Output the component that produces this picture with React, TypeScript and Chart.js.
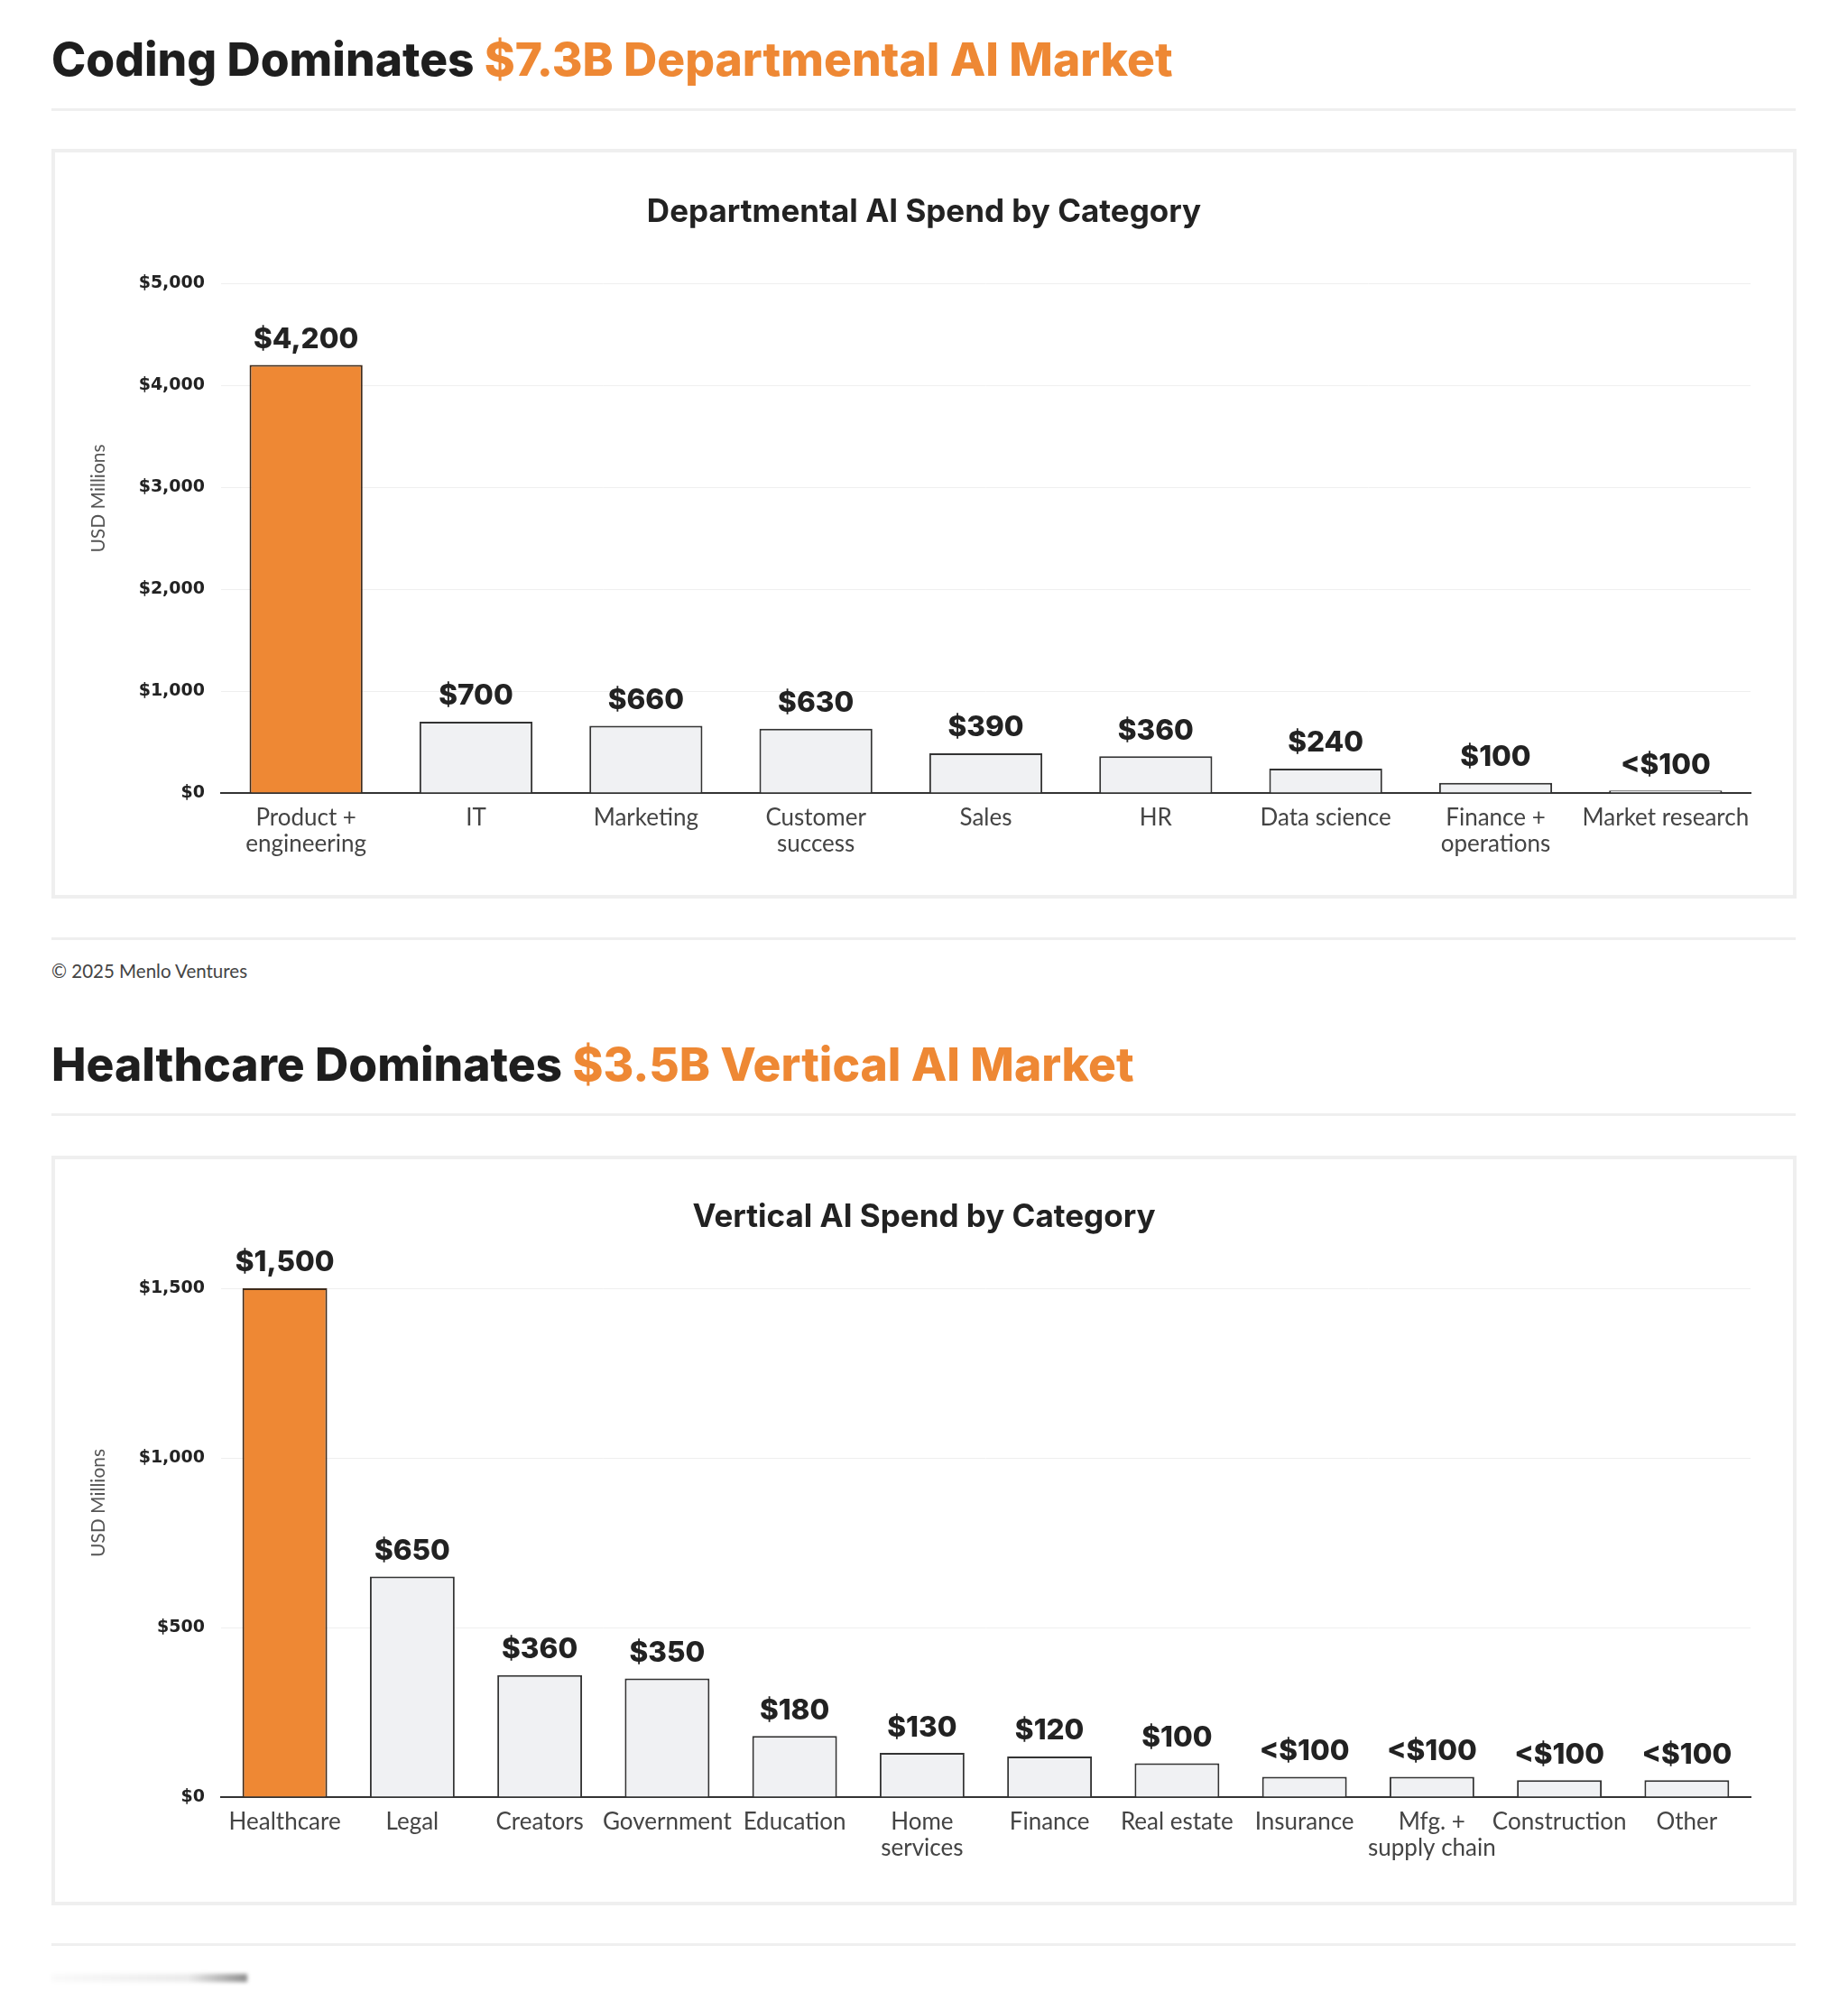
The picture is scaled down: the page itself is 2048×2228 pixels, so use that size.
import React, { useEffect, useRef } from "react";
import { Chart, registerables } from "chart.js";

Chart.register(...registerables);

// ---------- Data ----------
const deptTitle = "Departmental AI Spend by Category";
const deptCategories: (string | string[])[] = [
  ["Product +", "engineering"],
  "IT",
  "Marketing",
  ["Customer", "success"],
  "Sales",
  "HR",
  "Data science",
  ["Finance +", "operations"],
  "Market research",
];
const deptValues = [4200, 700, 660, 630, 390, 360, 240, 100, 25];
const deptValueLabels = ["$4,200", "$700", "$660", "$630", "$390", "$360", "$240", "$100", "<$100"];
const deptYMax = 5000;
const deptYStep = 1000;

const vertTitle = "Vertical AI Spend by Category";
const vertCategories: (string | string[])[] = [
  "Healthcare",
  "Legal",
  "Creators",
  "Government",
  "Education",
  ["Home", "services"],
  "Finance",
  "Real estate",
  "Insurance",
  ["Mfg. +", "supply chain"],
  "Construction",
  "Other",
];
const vertValues = [1500, 650, 360, 350, 180, 130, 120, 100, 60, 60, 50, 50];
const vertValueLabels = ["$1,500", "$650", "$360", "$350", "$180", "$130", "$120", "$100", "<$100", "<$100", "<$100", "<$100"];
const vertYMax = 1500;
const vertYStep = 500;

const highlightIndex = 0;
const yAxisTitle = "USD Millions";

// ---------- Styles ----------
const ORANGE = "#EE8834";
const ORANGE_BORDER = "#3e2a1a";
const GRAY = "#F0F1F3";
const GRAY_BORDER = "#333333";
const DARK = "#1e1e1e";

const valueLabelPlugin = {
  id: "valueLabels",
  afterDatasetsDraw(chart: any, _args: any, opts: any) {
    const ctx = chart.ctx;
    const meta = chart.getDatasetMeta(0);
    ctx.save();
    ctx.font = '800 31.5px "Inter"';
    ctx.fillStyle = "#222222";
    ctx.textAlign = "center";
    ctx.textBaseline = "middle";
    meta.data.forEach((bar: any, i: number) => {
      const txt = (opts.labels || [])[i];
      if (txt) ctx.fillText(txt, bar.x, bar.y - 28);
    });
    ctx.restore();
  },
};

const yTitlePlugin = {
  id: "yTitle",
  afterDraw(chart: any, _args: any, opts: any) {
    const { ctx, chartArea } = chart;
    ctx.save();
    ctx.translate(opts.x, (chartArea.top + chartArea.bottom) / 2 - opts.shift);
    ctx.rotate(-Math.PI / 2);
    ctx.font = '21px "Lato"';
    ctx.fillStyle = "#555555";
    ctx.textAlign = "center";
    ctx.textBaseline = "middle";
    ctx.fillText(opts.text, 0, 0);
    ctx.restore();
  },
};

type ChartSpec = {
  title: string;
  categories: (string | string[])[];
  values: number[];
  valueLabels: string[];
  yMax: number;
  yStep: number;
  titlePadTop: number;
  titlePadBottom: number;
  xHeight: number;
};

function BarChartBox({ spec, top }: { spec: ChartSpec; top: number }) {
  const ref = useRef<HTMLCanvasElement | null>(null);
  const W = 1926;
  const H = 823;

  useEffect(() => {
    if (!ref.current) return;
    const chart = new Chart(ref.current, {
      type: "bar",
      data: {
        labels: spec.categories as any,
        datasets: [
          {
            data: spec.values,
            backgroundColor: spec.values.map((_, i) => (i === highlightIndex ? ORANGE : GRAY)),
            borderColor: spec.values.map((_, i) => (i === highlightIndex ? ORANGE_BORDER : GRAY_BORDER)),
            borderWidth: 2,
            borderSkipped: "bottom",
            barPercentage: 0.665,
            categoryPercentage: 1,
            clip: false as any,
          },
        ],
      },
      options: {
        responsive: false,
        animation: false,
        layout: { padding: { left: 47, right: 47, top: 0, bottom: 0 } },
        plugins: {
          legend: { display: false },
          tooltip: { enabled: false },
          title: {
            display: true,
            text: spec.title,
            color: "#222222",
            font: { family: "Inter", weight: "bold", size: 35, lineHeight: 1.2 },
            padding: { top: spec.titlePadTop, bottom: spec.titlePadBottom },
          },
          valueLabels: { labels: spec.valueLabels },
          yTitle: { text: yAxisTitle, x: 48, shift: 44 },
        } as any,
        scales: {
          x: {
            grid: { display: false, drawTicks: false },
            border: { display: true, color: "#333333", width: 2 },
            ticks: {
              color: "#444444",
              font: { family: "Lato", size: 26, lineHeight: 1.08 },
              padding: 14,
              maxRotation: 0,
              minRotation: 0,
              autoSkip: false,
            },
            afterFit: (s: any) => {
              s.height = spec.xHeight;
            },
          },
          y: {
            min: 0,
            max: spec.yMax,
            ticks: {
              stepSize: spec.yStep,
              color: "#222222",
              font: { family: "DejaVu Sans", weight: "bold", size: 19 },
              padding: 18,
              callback: (v: any) => "$" + Number(v).toLocaleString("en-US"),
            },
            grid: { color: "#efefef", lineWidth: 1, drawTicks: false },
            border: { display: false },
            afterFit: (s: any) => {
              s.width = 137;
            },
          },
        },
      },
      plugins: [valueLabelPlugin, yTitlePlugin],
    });
    return () => chart.destroy();
  }, [spec]);

  return (
    <div
      style={{
        position: "absolute",
        left: 57,
        top,
        width: 1934,
        height: 831,
        boxSizing: "border-box",
        border: "4px solid #efefef",
        background: "#ffffff",
      }}
    >
      <canvas ref={ref} width={W} height={H} style={{ display: "block", width: W, height: H }} />
    </div>
  );
}

const deptSpec: ChartSpec = {
  title: deptTitle,
  categories: deptCategories,
  values: deptValues,
  valueLabels: deptValueLabels,
  yMax: deptYMax,
  yStep: deptYStep,
  titlePadTop: 45,
  titlePadBottom: 58,
  xHeight: 113,
};

const vertSpec: ChartSpec = {
  title: vertTitle,
  categories: vertCategories,
  values: vertValues,
  valueLabels: vertValueLabels,
  yMax: vertYMax,
  yStep: vertYStep,
  titlePadTop: 43,
  titlePadBottom: 58,
  xHeight: 116,
};

const headingStyle: React.CSSProperties = {
  position: "absolute",
  left: 57,
  fontFamily: "Inter, sans-serif",
  fontWeight: 800,
  fontSize: 51.5,
  lineHeight: "50px",
  color: DARK,
  whiteSpace: "nowrap",
  margin: 0,
};

const sepStyle = (top: number): React.CSSProperties => ({
  position: "absolute",
  left: 57,
  top,
  width: 1933,
  height: 3,
  background: "#efefef",
});

export default function App() {
  return (
    <div
      style={{
        position: "absolute",
        left: 0,
        top: 0,
        width: 2048,
        height: 2228,
        background: "#ffffff",
        overflow: "hidden",
      }}
    >
      <div style={{ ...headingStyle, top: 40 }}>
        Coding Dominates <span style={{ color: ORANGE }}>$7.3B Departmental AI Market</span>
      </div>
      <div style={sepStyle(120)} />
      <BarChartBox spec={deptSpec} top={165} />
      <div style={sepStyle(1039)} />
      <div
        style={{
          position: "absolute",
          left: 57,
          top: 1066,
          fontFamily: "Lato, sans-serif",
          fontSize: 20.5,
          lineHeight: "21px",
          color: "#444444",
          whiteSpace: "nowrap",
        }}
      >
        © 2025 Menlo Ventures
      </div>
      <div style={{ ...headingStyle, top: 1154 }}>
        Healthcare Dominates <span style={{ color: ORANGE }}>$3.5B Vertical AI Market</span>
      </div>
      <div style={sepStyle(1234)} />
      <BarChartBox spec={vertSpec} top={1281} />
      <div style={sepStyle(2154)} />
      <div
        style={{
          position: "absolute",
          left: 57,
          top: 2188,
          width: 217,
          height: 9,
          background:
            "linear-gradient(to right, rgba(0,0,0,0.02), rgba(0,0,0,0.08) 70%, rgba(0,0,0,0.45))",
          filter: "blur(2px)",
        }}
      />
    </div>
  );
}
